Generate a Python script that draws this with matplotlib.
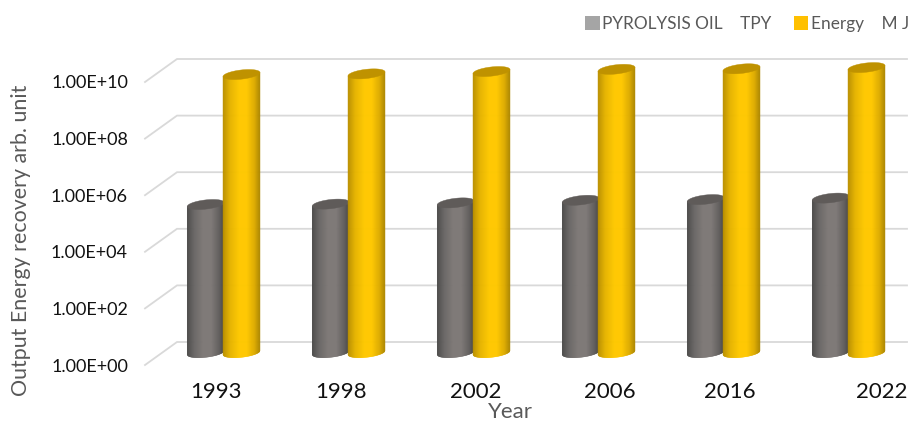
import numpy as np
import matplotlib
matplotlib.use("Agg")
import matplotlib.pyplot as plt
from matplotlib.patches import Patch, Polygon
from matplotlib.transforms import IdentityTransform

years = ["1993", "1998", "2002", "2006", "2016", "2022"]
pyrolysis_oil_tpy = [1.84e5, 1.9e5, 2.1e5, 2.6e5, 2.75e5, 3.1e5]
energy_mj = [7.2e9, 7.6e9, 9.2e9, 1.1e10, 1.15e10, 1.27e10]
y_ticks = [1e0, 1e2, 1e4, 1e6, 1e8, 1e10]
y_tick_labels = ["1.00E+00", "1.00E+02", "1.00E+04", "1.00E+06", "1.00E+08", "1.00E+10"]

plt.rcParams["font.family"] = ["Lato", "DejaVu Sans"]

W, H = 916, 422
fig = plt.figure(figsize=(W / 100, H / 100), dpi=100, facecolor="white")
ax = fig.add_axes([0, 0, 1, 1])
ax.set_axis_off()

# Category 0 sits at x=223 px, category spacing 125 px; one decade is 28.3 px.
ax.set_xlim(-223 / 125, (W - 223) / 125)
ax.set_ylim(10 ** ((353.5 - H) / 28.3), 10 ** (353.5 / 28.3))
ax.set_yscale("log")
fig.canvas.draw()


def to_px(cat, value):
    return ax.transData.transform((cat, value))


# Oblique floor/back-wall grid: a short receding stub plus the long back line.
GRID = "#D9D9D9"
for tick, label in zip(y_ticks, y_tick_labels):
    x0, y0 = to_px(0, tick)
    ax.plot([145, 177, 907], [y0 - 11.5, y0 + 11.5, y0 + 11.5], color=GRID, lw=1.3,
            transform=IdentityTransform(), zorder=1, solid_joinstyle="miter")
    ax.annotate(label, xy=(0, tick), xycoords=("axes fraction", "data"),
                xytext=(128, -13), textcoords="offset pixels",
                ha="right", va="center", fontsize=13, color="#111111")


def shade(stops, u):
    pos = [s[0] for s in stops]
    rgb = np.array([matplotlib.colors.to_rgb(s[1]) for s in stops])
    return [np.interp(u, pos, rgb[:, i]) for i in range(3)]


def cylinder(cat, offset, value, stops, cap, zorder):
    """Draw a tilted cylinder rising from the log-axis floor to value."""
    half_w, half_h, tilt = 18.5, 4.6, 2.0
    cx, y_base = to_px(cat, 1.0)
    cx += offset
    y_base += 0.8
    _, y_top = to_px(cat, value)
    edges = np.linspace(-1, 1, 75)
    for a, b in zip(edges[:-1], edges[1:]):
        mid = (a + b) / 2
        us = np.array([a, b])
        bottom = y_base + tilt * us - half_h * np.sqrt(1 - us ** 2)
        top = y_top + tilt * us
        verts = [(cx + half_w * us[0], bottom[0]), (cx + half_w * us[1], bottom[1]),
                 (cx + half_w * us[1], top[1]), (cx + half_w * us[0], top[0])]
        c = shade(stops, mid)
        ax.add_patch(Polygon(verts, closed=True, facecolor=c, edgecolor=c, lw=0.3,
                             transform=IdentityTransform(), zorder=zorder))
    t = np.linspace(0, 2 * np.pi, 90)
    ell = np.column_stack([cx + half_w * np.cos(t),
                           y_top + tilt * np.cos(t) + half_h * np.sin(t)])
    ax.add_patch(Polygon(ell, closed=True, facecolor=cap, edgecolor=cap, lw=0.3,
                         transform=IdentityTransform(), zorder=zorder + 0.1))


GRAY_STOPS = [(-1, "#4B4A49"), (-0.6, "#6A6766"), (-0.1, "#7F7A78"), (0.3, "#7F7A78"),
              (0.75, "#625F5E"), (1, "#474645")]
GOLD_STOPS = [(-1, "#B88E00"), (-0.6, "#E5B300"), (-0.1, "#FFC800"), (0.3, "#FFC800"),
              (0.72, "#DDAB00"), (1, "#AE8700")]

for i in range(len(years)):
    cylinder(i, -17.3, pyrolysis_oil_tpy[i], GRAY_STOPS, "#5F5B59", 3)
    cylinder(i, 18.5, energy_mj[i], GOLD_STOPS, "#BF9200", 4)

# The year labels are placed by hand along the floor and are not evenly centred.
label_shift_px = [-7, -7, 3, 12, 7, 34]
for i, (year, dx) in enumerate(zip(years, label_shift_px)):
    ax.annotate(year, xy=(i, 1.0), xytext=(dx, -38), textcoords="offset pixels",
                ha="center", va="center", fontsize=16, color="#111111")

fig.text(21 / W, 1 - 240 / H, "Output Energy recovery arb. unit", rotation=90,
         ha="center", va="center", fontsize=15.4, color="#595959")
fig.text(510 / W, 1 - 412.5 / H, "Year", ha="center", va="center", fontsize=16, color="#595959")

handles = [Patch(facecolor="#A5A5A5", label="PYROLYSIS OIL    TPY"),
           Patch(facecolor="#FFC000", label="Energy    M J")]
fig.legend(handles=handles, ncols=2, loc="center right", bbox_to_anchor=(909 / W, 1 - 24 / H),
           frameon=False, fontsize=12.4, labelcolor="#595959", handlelength=0.85,
           handleheight=0.85, handletextpad=0.15, columnspacing=1.28, borderpad=0, borderaxespad=0)

fig.savefig("out.png", dpi=100)
